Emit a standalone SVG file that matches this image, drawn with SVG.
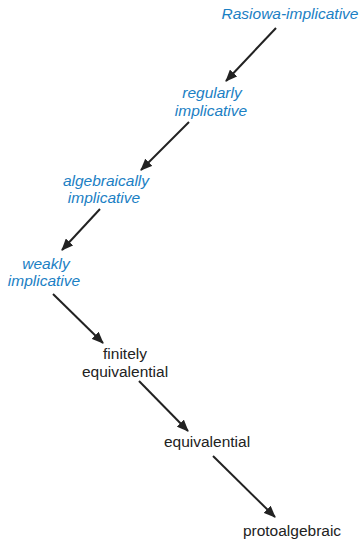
<svg xmlns="http://www.w3.org/2000/svg" width="364" height="540" viewBox="0 0 364 540">
<style>
text{font-family:"Liberation Sans",Arial,sans-serif;font-size:15.5px;text-anchor:middle}
.b{fill:#1b80c4;font-style:italic}
.k{fill:#222}
.e{stroke:#222;stroke-width:2;fill:none;marker-end:url(#a)}
</style>
<defs>
<marker id="a" viewBox="0 0 12 10" refX="11" refY="5" markerWidth="12" markerHeight="10" markerUnits="userSpaceOnUse" orient="auto">
<path d="M0,0 L12,5 L0,10 Z" fill="#222"/>
</marker>
</defs>
<g id="connectors">
<line class="e" x1="276" y1="28" x2="226" y2="81"/>
<line class="e" x1="189" y1="122" x2="141" y2="170"/>
<line class="e" x1="100" y1="209" x2="62" y2="250"/>
<line class="e" x1="53" y1="294" x2="103" y2="343"/>
<line class="e" x1="139" y1="381" x2="188" y2="431"/>
<line class="e" x1="213" y1="456" x2="275" y2="517"/>
</g>
<g id="rasiowa"><text class="b" x="290" y="19">Rasiowa-implicative</text></g>
<g id="regularly"><text class="b" x="212" y="98">regularly</text><text class="b" x="211" y="116">implicative</text></g>
<g id="algebraically"><text class="b" x="106" y="186">algebraically</text><text class="b" x="104" y="203">implicative</text></g>
<g id="weakly"><text class="b" x="46" y="269">weakly</text><text class="b" x="44" y="286">implicative</text></g>
<g id="finitely"><text class="k" x="125" y="359">finitely</text><text class="k" x="125" y="377">equivalential</text></g>
<g id="equivalential"><text class="k" x="207" y="447">equivalential</text></g>
<g id="protoalgebraic"><text class="k" x="292" y="536">protoalgebraic</text></g>
</svg>
